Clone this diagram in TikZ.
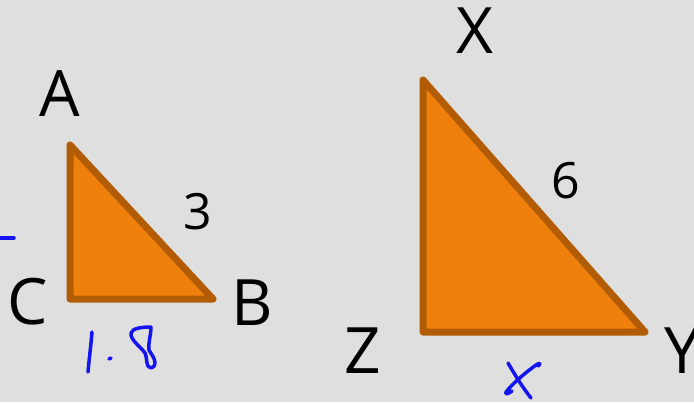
\documentclass[tikz,border=0pt]{standalone}
\usepackage{fontspec}
\setmainfont{Open Sans}
\usepackage{tikz}

\definecolor{bggrey}{HTML}{DFDFDF}
\definecolor{trifill}{HTML}{EF800B}
\definecolor{triedge}{HTML}{B25D06}
\definecolor{inkblue}{HTML}{1414F0}

\tikzset{
  tri/.style={fill=trifill, draw=triedge, line width=7pt, line join=round},
  vlabel/.style={inner sep=0pt, font=\fontsize{64}{64}\selectfont},
  slabel/.style={inner sep=0pt, font=\fontsize{50}{50}\selectfont},
  ink/.style={draw=inkblue, line width=3.5pt, line cap=round, line join=round}
}

\begin{document}
\begin{tikzpicture}[x=1pt,y=-1pt]
\fill[bggrey] (0,0) rectangle (694,402);
\useasboundingbox (0,0) rectangle (694,402);

% small triangle
\coordinate (A) at (70,145);
\coordinate (C) at (70,299);
\coordinate (B) at (213,299);
\draw[tri] (A) -- (C) -- (B) -- cycle;
\node[vlabel] (lblA) at (60,94) {A};
\node[vlabel] (lblC) at (28,302) {C};
\node[vlabel] (lblB) at (252,303) {B};
\node[slabel] (lblAB) at (198,212) {3};

% large triangle
\coordinate (X) at (423,80);
\coordinate (Z) at (423,332);
\coordinate (Y) at (645,332);
\draw[tri] (X) -- (Z) -- (Y) -- cycle;
\node[vlabel] (lblX) at (475,31) {X};
\node[vlabel] (lblZ) at (363,351) {Z};
\node[vlabel] (lblY) at (682,351) {Y};
\node[slabel] (lblXY) at (566,181) {6};

% handwritten marks
\draw[ink] (0,238) -- (14,238);
\draw[ink] (92,332) .. controls (91,345) and (89,360) .. (88,372);
\draw[ink] (109,359) -- (111,358);
\draw[ink] (151,327) .. controls (143,327) and (132,328) .. (131,333)
  .. controls (130,340) and (141,347) .. (145,353)
  .. controls (147,357) and (146,362) .. (148,366)
  .. controls (150,369) and (155,368) .. (155,363)
  .. controls (155,358) and (151,354) .. (149,350)
  .. controls (148,343) and (151,335) .. (151,327);
\draw[ink] (508,363) .. controls (515,375) and (523,388) .. (531,398);
\draw[ink] (538,366) .. controls (541,364) and (540,362) .. (536,365)
  .. controls (525,373) and (513,383) .. (506,392)
  .. controls (505,395) and (508,394) .. (512,391);
\end{tikzpicture}
\end{document}
